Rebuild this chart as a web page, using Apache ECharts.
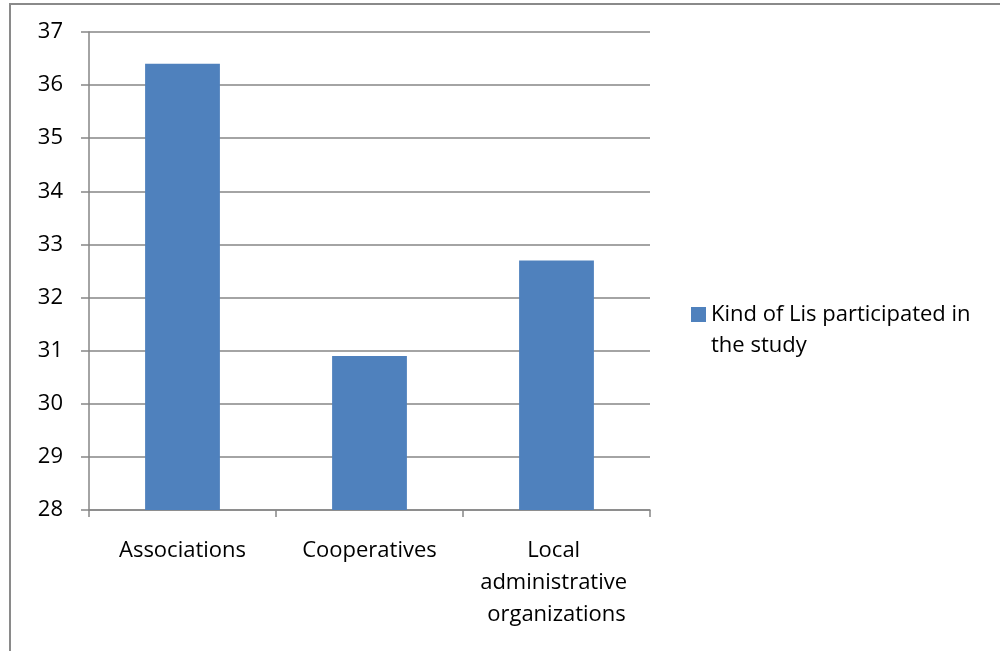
<!DOCTYPE html>
<html>
<head>
<meta charset="utf-8">
<script src="https://cdn.jsdelivr.net/npm/echarts@6/dist/echarts.min.js"></script>
<style>
  html, body { margin: 0; padding: 0; background: #fff; }
  #chart { width: 1000px; height: 651px; }
</style>
</head>
<body>
<div id="chart"></div>
<script>
const categories = ['Associations', 'Cooperatives', 'Local administrative organizations'];
const seriesName = 'Kind of Lis participated in the study';
const values = [36.4, 30.9, 32.7];
const yMin = 28, yMax = 37, yStep = 1;

const FONT = 'Open Sans';
const FONT_SIZE = 22;
const AXIS_GRAY = '#868686';

const chart = echarts.init(document.getElementById('chart'), null, { renderer: 'canvas' });
chart.setOption({
  animation: false,
  backgroundColor: '#ffffff',
  textStyle: { fontFamily: FONT, color: '#000' },
  graphic: [{
    type: 'rect',
    shape: { x: 10, y: 4, width: 1200, height: 1000 },
    style: { fill: 'none', stroke: '#8a8a8a', lineWidth: 2 },
    silent: true
  }],
  grid: { left: 89, right: 350, top: 32, bottom: 141, containLabel: false },
  legend: {
    orient: 'vertical',
    left: 686,
    top: 263,
    padding: 5,
    itemWidth: 15,
    itemHeight: 15,
    itemGap: 7,
    icon: 'rect',
    // blank first line keeps the first text row level with the swatch
    formatter: () => ' \nKind of Lis participated in\nthe study',
    textStyle: {
      fontFamily: FONT, fontSize: FONT_SIZE, color: '#000',
      lineHeight: 31
    }
  },
  xAxis: {
    type: 'category',
    data: categories,
    axisLine: { lineStyle: { color: AXIS_GRAY, width: 1.5 } },
    axisTick: { show: true, length: 7, alignWithLabel: false, lineStyle: { color: AXIS_GRAY, width: 1.5 } },
    axisLabel: {
      fontFamily: FONT, fontSize: FONT_SIZE, color: '#000', margin: 25,
      lineHeight: 32, width: 165, overflow: 'break', interval: 0
    }
  },
  yAxis: {
    type: 'value',
    min: yMin, max: yMax, interval: yStep,
    axisLine: { show: true, lineStyle: { color: AXIS_GRAY, width: 1.5 } },
    axisTick: { show: true, length: 8, lineStyle: { color: AXIS_GRAY, width: 1.5 } },
    splitLine: { show: true, lineStyle: { color: AXIS_GRAY, width: 1.5 } },
    axisLabel: { fontFamily: FONT, fontSize: FONT_SIZE, color: '#000', margin: 26 }
  },
  series: [{
    name: seriesName,
    type: 'bar',
    data: values,
    barWidth: '40%',
    itemStyle: { color: '#4F81BD' }
  }]
});
</script>
</body>
</html>
